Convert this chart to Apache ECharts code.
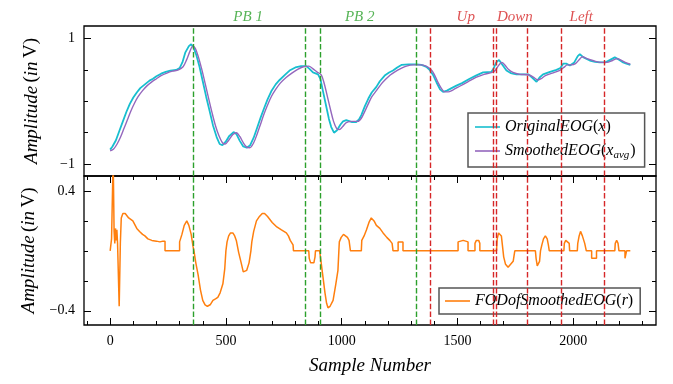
<!DOCTYPE html>
<html>
<head>
<meta charset="utf-8">
<script src="https://cdn.jsdelivr.net/npm/echarts@6/dist/echarts.min.js"></script>
<style>
  html, body { margin: 0; padding: 0; background: #fff; }
  #chart { width: 673px; height: 384px; }
</style>
</head>
<body>
<div id="chart"></div>
<script>
// original EOG (x)
const origX = [0, 10, 25, 40, 55, 70, 85, 100, 115, 130, 150, 170, 185, 200, 220, 240, 260, 285, 300, 312, 325, 340, 350, 360, 372, 386, 400, 415, 430, 444, 460, 473, 485, 500, 515, 533, 545, 560, 575, 590, 605, 620, 635, 650, 665, 680, 696, 715, 732, 755, 775, 800, 825, 847, 860, 876, 898, 908, 920, 934, 945, 955, 967, 980, 995, 1006, 1020, 1045, 1063, 1075, 1085, 1100, 1115, 1130, 1150, 1165, 1186, 1205, 1222, 1240, 1258, 1290, 1323, 1345, 1366, 1380, 1395, 1410, 1425, 1438, 1455, 1475, 1496, 1520, 1553, 1580, 1611, 1647, 1656, 1668, 1680, 1695, 1712, 1730, 1755, 1790, 1807, 1825, 1842, 1855, 1870, 1900, 1928, 1945, 1957, 1970, 1986, 2005, 2020, 2029, 2045, 2072, 2095, 2115, 2140, 2160, 2180, 2200, 2216, 2230, 2247]
const origY = [-0.77, -0.72, -0.62, -0.47, -0.32, -0.17, -0.04, 0.06, 0.14, 0.21, 0.27, 0.33, 0.36, 0.40, 0.44, 0.47, 0.49, 0.50, 0.53, 0.62, 0.78, 0.88, 0.91, 0.86, 0.74, 0.55, 0.32, 0.07, -0.16, -0.38, -0.57, -0.68, -0.70, -0.64, -0.55, -0.49, -0.52, -0.63, -0.72, -0.74, -0.70, -0.58, -0.42, -0.26, -0.11, 0.03, 0.16, 0.27, 0.34, 0.42, 0.49, 0.54, 0.56, 0.56, 0.52, 0.46, 0.43, 0.36, 0.15, -0.09, -0.28, -0.41, -0.50, -0.46, -0.37, -0.32, -0.30, -0.33, -0.33, -0.29, -0.22, -0.08, 0.04, 0.14, 0.23, 0.32, 0.41, 0.46, 0.49, 0.54, 0.58, 0.59, 0.59, 0.58, 0.55, 0.50, 0.42, 0.30, 0.19, 0.15, 0.17, 0.21, 0.25, 0.29, 0.36, 0.41, 0.46, 0.47, 0.52, 0.62, 0.66, 0.58, 0.49, 0.45, 0.43, 0.43, 0.43, 0.37, 0.31, 0.38, 0.43, 0.47, 0.50, 0.53, 0.60, 0.60, 0.57, 0.62, 0.72, 0.75, 0.70, 0.65, 0.63, 0.62, 0.62, 0.66, 0.70, 0.66, 0.62, 0.60, 0.58]

// smoothed EOG (x_avg)
const smoothX = [0, 15, 30, 45, 60, 75, 90, 105, 120, 140, 160, 180, 200, 220, 245, 270, 295, 315, 330, 345, 357, 367, 380, 395, 410, 425, 440, 455, 470, 485, 497, 512, 530, 545, 560, 575, 590, 603, 620, 635, 650, 665, 680, 697, 715, 735, 760, 785, 810, 835, 858, 875, 893, 912, 925, 940, 953, 965, 978, 990, 1005, 1020, 1045, 1070, 1085, 1100, 1115, 1130, 1150, 1170, 1190, 1210, 1230, 1255, 1280, 1310, 1340, 1365, 1385, 1400, 1415, 1430, 1445, 1460, 1480, 1510, 1545, 1580, 1615, 1650, 1665, 1680, 1692, 1705, 1720, 1740, 1770, 1810, 1830, 1848, 1862, 1880, 1910, 1940, 1960, 1975, 1992, 2010, 2030, 2040, 2060, 2085, 2120, 2145, 2170, 2190, 2205, 2225, 2247]
const smoothY = [-0.79, -0.76, -0.68, -0.57, -0.43, -0.29, -0.15, -0.03, 0.07, 0.17, 0.25, 0.31, 0.36, 0.41, 0.45, 0.48, 0.50, 0.55, 0.66, 0.80, 0.88, 0.85, 0.72, 0.52, 0.29, 0.05, -0.18, -0.39, -0.55, -0.66, -0.68, -0.62, -0.53, -0.50, -0.56, -0.66, -0.73, -0.74, -0.66, -0.52, -0.36, -0.20, -0.06, 0.08, 0.19, 0.29, 0.38, 0.45, 0.51, 0.55, 0.56, 0.52, 0.47, 0.42, 0.28, 0.05, -0.15, -0.32, -0.43, -0.45, -0.40, -0.34, -0.32, -0.32, -0.27, -0.16, -0.04, 0.07, 0.17, 0.27, 0.35, 0.42, 0.47, 0.52, 0.56, 0.58, 0.58, 0.56, 0.51, 0.43, 0.31, 0.21, 0.15, 0.15, 0.18, 0.24, 0.31, 0.38, 0.43, 0.46, 0.50, 0.58, 0.62, 0.58, 0.51, 0.46, 0.43, 0.42, 0.38, 0.34, 0.36, 0.41, 0.45, 0.49, 0.54, 0.58, 0.58, 0.60, 0.68, 0.71, 0.68, 0.65, 0.62, 0.62, 0.65, 0.68, 0.66, 0.62, 0.59]

// FOD of smoothed EOG (r)
const fodX = [0, 6, 6, 10, 13, 17, 20, 23, 26, 29, 32, 39, 44, 48, 55, 65, 80, 98, 115, 127, 140, 150, 163, 180, 200, 215, 228, 237, 237, 300, 300, 310, 320, 331, 340, 350, 358, 362, 370, 380, 390, 400, 410, 420, 432, 444, 455, 465, 475, 487, 495, 500, 505, 512, 520, 530, 538, 545, 555, 566, 575, 581, 590, 600, 608, 612, 620, 632, 645, 657, 667, 680, 700, 720, 740, 761, 770, 778, 790, 792, 858, 860, 866, 873, 880, 885, 887, 905, 910, 919, 928, 935, 941, 950, 963, 975, 984, 988, 990, 998, 1008, 1016, 1025, 1032, 1038, 1085, 1087, 1097, 1107, 1118, 1128, 1140, 1150, 1165, 1179, 1195, 1208, 1218, 1222, 1244, 1244, 1265, 1265, 1503, 1503, 1510, 1525, 1546, 1546, 1576, 1576, 1582, 1592, 1597, 1597, 1669, 1672, 1678, 1683, 1690, 1695, 1700, 1708, 1719, 1730, 1741, 1748, 1837, 1840, 1845, 1850, 1855, 1859, 1865, 1872, 1880, 1888, 1893, 1897, 1960, 1962, 1968, 1976, 1983, 1985, 2018, 2020, 2026, 2032, 2040, 2050, 2057, 2080, 2080, 2101, 2101, 2180, 2182, 2188, 2194, 2198, 2224, 2224, 2231, 2231, 2247]
const fodY = [0, 0, 0.08, 0.08, 0.62, 0.13, 0.05, 0.15, 0.07, 0.14, 0.05, -0.37, 0.05, 0.22, 0.25, 0.25, 0.22, 0.20, 0.15, 0.13, 0.11, 0.10, 0.08, 0.07, 0.065, 0.06, 0.065, 0.065, 0, 0, 0.06, 0.11, 0.17, 0.20, 0.17, 0.11, 0.03, 0, -0.08, -0.16, -0.26, -0.33, -0.36, -0.37, -0.36, -0.33, -0.32, -0.31, -0.28, -0.22, -0.12, 0, 0.06, 0.10, 0.12, 0.12, 0.10, 0.07, -0.01, -0.08, -0.14, -0.15, -0.13, -0.08, 0, 0.06, 0.13, 0.20, 0.23, 0.25, 0.25, 0.23, 0.19, 0.16, 0.14, 0.12, 0.10, 0.07, 0.04, 0, 0, -0.05, -0.08, -0.09, -0.08, -0.04, 0, 0, -0.06, -0.17, -0.28, -0.35, -0.38, -0.37, -0.33, -0.22, -0.13, 0, 0.06, 0.09, 0.11, 0.11, 0.09, 0.07, 0, 0, 0.07, 0.10, 0.14, 0.19, 0.22, 0.20, 0.17, 0.15, 0.12, 0.09, 0.07, 0.05, 0, 0, 0.06, 0.06, 0, 0, 0.06, 0.07, 0.07, 0.06, 0, 0, 0.05, 0.07, 0.07, 0.05, 0, 0, 0.08, 0.12, 0.13, 0.10, 0.03, -0.04, -0.09, -0.11, -0.09, -0.07, 0, 0, -0.05, -0.10, -0.11, -0.07, 0, 0.04, 0.08, 0.10, 0.08, 0.04, 0, 0, 0.05, 0.07, 0.07, 0.05, 0, 0, 0.05, 0.10, 0.13, 0.10, 0.05, 0, 0, -0.05, -0.05, 0, 0, 0.05, 0.07, 0.05, 0, 0, -0.05, -0.05, 0, 0]

// event markers (sample numbers)
const greenLines = [360, 841, 908, 1323]
const redLines = [1383, 1654, 1669, 1803, 1950, 2134]
const eventNames = ['PB 1', 'PB 2', 'Up', 'Down', 'Left']
const eventX = [596, 1078, 1536, 1748, 2035]
const eventKind = ['pb', 'pb', 'dir', 'dir', 'dir']

// axis ticks
const xMajor = [0, 500, 1000, 1500, 2000]
const xMinor = [-100, 100, 200, 300, 400, 600, 700, 800, 900, 1100, 1200, 1300, 1400, 1600, 1700, 1800, 1900, 2100, 2200, 2300]
const topMajor = [-1, 1]
const topMinor = [-0.5, 0, 0.5]
const botMajor = [-0.4, 0.4]
const botMinor = [-0.2, 0, 0.2]

const X_MIN = -113, X_MAX = 2358
const TOP_MIN = -1.19, TOP_MAX = 1.2
const BOT_MIN = -0.495, BOT_MAX = 0.5

const SERIF = 'Liberation Serif'
const GREEN = '#2ca02c', RED = '#d62728'

const zip = (xs, ys) => xs.map((x, i) => [x, ys[i]])
const fmtNum = v => (v < 0 ? '\u2212' + Math.abs(v) : String(v))

function tickAxis(grid, position, min, max, ticks, len, extra) {
  return Object.assign({
    type: 'value',
    gridIndex: grid,
    position: position,
    min: min,
    max: max,
    axisLine: { show: false, onZero: false },
    splitLine: { show: false },
    axisTick: {
      show: ticks.length > 0,
      inside: true,
      length: len,
      customValues: ticks,
      lineStyle: { color: '#000', width: 1 }
    },
    axisLabel: { show: false, customValues: ticks }
  }, extra || {})
}

const labelStyle = (ticks) => ({
  show: true,
  customValues: ticks,
  fontFamily: SERIF,
  fontSize: 14,
  color: '#000',
  margin: 9,
  formatter: fmtNum
})

const ampName = '{i|Amplitude} {n|(}{i|in} {n|V)}'
const ampRich = {
  i: { fontFamily: SERIF, fontStyle: 'italic', fontSize: 19, color: '#000' },
  n: { fontFamily: SERIF, fontSize: 19, color: '#000' }
}

const xAxes = [
  tickAxis(0, 'bottom', X_MIN, X_MAX, [], 0),
  tickAxis(1, 'bottom', X_MIN, X_MAX, xMajor, 7, {
    axisLabel: labelStyle(xMajor),
    name: 'Sample Number',
    nameLocation: 'middle',
    nameGap: 31,
    nameTextStyle: { fontFamily: SERIF, fontStyle: 'italic', fontSize: 19, color: '#000' }
  }),
  tickAxis(1, 'bottom', X_MIN, X_MAX, xMinor, 4),
  tickAxis(1, 'top', X_MIN, X_MAX, xMajor, 7),
  tickAxis(1, 'top', X_MIN, X_MAX, xMinor, 4)
]

const yAxes = [
  tickAxis(0, 'left', TOP_MIN, TOP_MAX, topMajor, 7, {
    axisLabel: labelStyle(topMajor),
    name: ampName,
    nameLocation: 'middle',
    nameGap: 43,
    nameTextStyle: { rich: ampRich }
  }),
  tickAxis(0, 'left', TOP_MIN, TOP_MAX, topMinor, 4),
  tickAxis(0, 'right', TOP_MIN, TOP_MAX, topMajor, 7),
  tickAxis(0, 'right', TOP_MIN, TOP_MAX, topMinor, 4),
  tickAxis(1, 'left', BOT_MIN, BOT_MAX, botMajor, 7, {
    axisLabel: labelStyle(botMajor),
    name: ampName,
    nameLocation: 'middle',
    nameGap: 43,
    nameTextStyle: { rich: ampRich }
  }),
  tickAxis(1, 'left', BOT_MIN, BOT_MAX, botMinor, 4),
  tickAxis(1, 'right', BOT_MIN, BOT_MAX, botMajor, 7),
  tickAxis(1, 'right', BOT_MIN, BOT_MAX, botMinor, 4)
]

const vLines = greenLines.map(x => ({ xAxis: x, lineStyle: { color: GREEN } }))
  .concat(redLines.map(x => ({ xAxis: x, lineStyle: { color: RED } })))

const markLine = {
  silent: true,
  symbol: ['none', 'none'],
  label: { show: false },
  lineStyle: { type: [5.5, 2.4], width: 1.4 },
  emphasis: { disabled: true },
  data: vLines
}

const legendRich = {
  i: { fontFamily: SERIF, fontStyle: 'italic', fontSize: 16, color: '#000', lineHeight: 20 },
  n: { fontFamily: SERIF, fontSize: 16, color: '#000', lineHeight: 20 },
  s: { fontFamily: SERIF, fontStyle: 'italic', fontSize: 11, color: '#000', lineHeight: 20, verticalAlign: 'bottom', padding: [6, 1, 0, 0] }
}
const legendText = {
  orig: '{i|OriginalEOG}{n|(}{i|x}{n|)}',
  smooth: '{i|SmoothedEOG}{n|(}{i|x}{s|avg}{n|)}',
  fod: '{i|FODofSmoothedEOG}{n|(}{i|r}{n|)}'
}
const legendBase = {
  orient: 'vertical',
  icon: 'rect',
  itemWidth: 25,
  itemHeight: 1.6,
  itemGap: 8,
  backgroundColor: 'rgba(255,255,255,0.8)',
  borderColor: '#555',
  borderWidth: 1.5,
  selectedMode: false,
  formatter: name => legendText[name],
  textStyle: { rich: legendRich }
}

const chart = echarts.init(document.getElementById('chart'), null, { renderer: 'canvas' })
chart.setOption({
  animation: false,
  backgroundColor: '#fff',
  grid: [
    { left: 84, top: 26, width: 572, height: 150, show: true, borderColor: '#000', borderWidth: 1.3, backgroundColor: 'transparent' },
    { left: 84, top: 176, width: 572, height: 149, show: true, borderColor: '#000', borderWidth: 1.3, backgroundColor: 'transparent' }
  ],
  xAxis: xAxes,
  yAxis: yAxes,
  legend: [
    Object.assign({}, legendBase, { left: 468, top: 113, padding: [6, 9, 6, 7], data: ['orig', 'smooth'] }),
    Object.assign({}, legendBase, { left: 439, top: 288, padding: [5, 7, 5, 6], data: ['fod'] })
  ],
  series: [
    {
      name: 'orig',
      type: 'line',
      xAxisIndex: 0,
      yAxisIndex: 0,
      data: zip(origX, origY),
      symbol: 'none',
      color: '#17becf',
      lineStyle: { width: 1.8 },
      markLine: markLine,
      z: 3
    },
    {
      name: 'smooth',
      type: 'line',
      xAxisIndex: 0,
      yAxisIndex: 0,
      data: zip(smoothX, smoothY),
      symbol: 'none',
      smooth: 0.3,
      color: '#9467bd',
      lineStyle: { width: 1.4 },
      z: 4
    },
    {
      name: 'events',
      type: 'scatter',
      xAxisIndex: 0,
      yAxisIndex: 0,
      clip: false,
      silent: true,
      symbolSize: 0,
      data: eventNames.map((n, i) => ({
        value: [eventX[i], 1.343],
        name: n,
        label: { color: eventKind[i] === 'pb' ? GREEN : RED }
      })),
      label: {
        show: true,
        position: 'inside',
        formatter: p => p.name,
        fontFamily: SERIF,
        fontStyle: 'italic',
        fontSize: 15
      }
    },
    {
      name: 'fod',
      type: 'line',
      xAxisIndex: 1,
      yAxisIndex: 4,
      data: zip(fodX, fodY),
      symbol: 'none',
      color: '#ff7f0e',
      lineStyle: { width: 1.5 },
      markLine: markLine,
      z: 3
    }
  ]
})
</script>
</body>
</html>
